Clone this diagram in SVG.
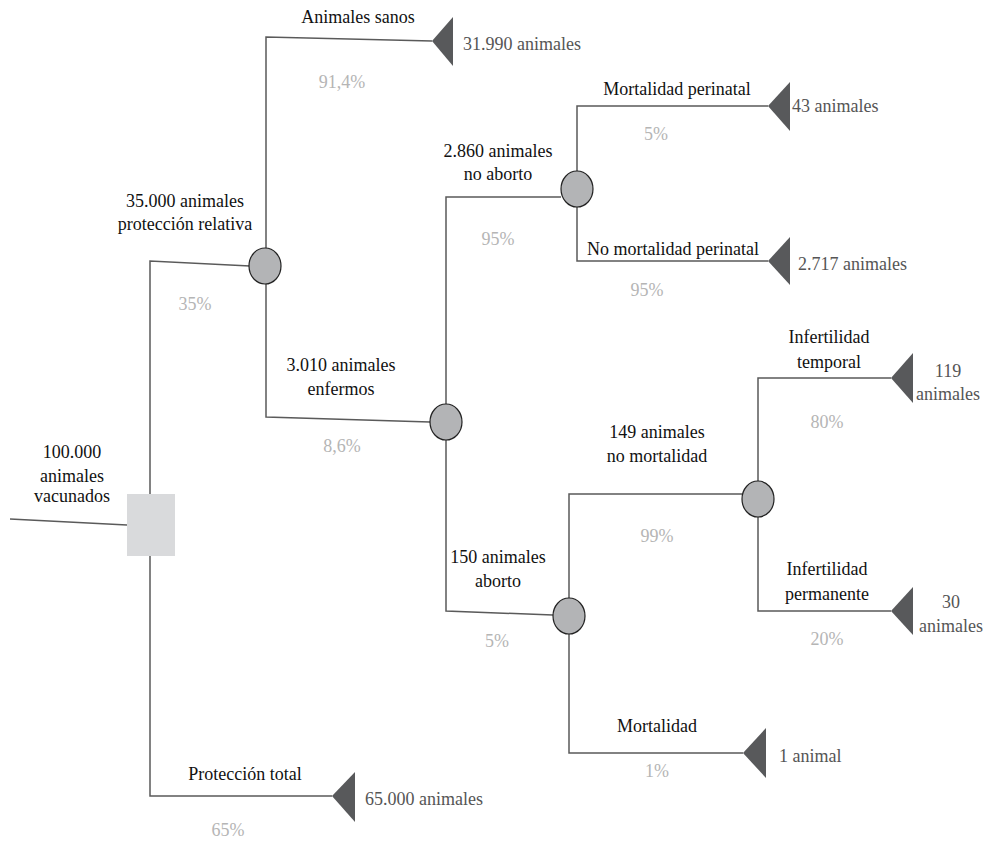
<svg xmlns="http://www.w3.org/2000/svg" width="992" height="841" viewBox="0 0 992 841">
<style>
.t text{font-size:18px}
.lbl{fill:#111;text-anchor:middle}
.pct{fill:#b5b5b5;text-anchor:middle}
.val{fill:#555}
.valc{fill:#555;text-anchor:middle}
.ln{fill:none;stroke:#5a5a5a;stroke-width:1.5}
.chance{fill:#b3b4b6;stroke:#222;stroke-width:1.2}
.end{fill:#58595b}
</style>
<rect width="992" height="841" fill="#fff"/>
<g id="connectors">
<path class="ln" d="M10,519 L127,525"/>
<path class="ln" d="M150,494 L150,261 L250,266"/>
<path class="ln" d="M150,556 L150,796 L332,796"/>
<path class="ln" d="M266,248 L266,37 L432,41"/>
<path class="ln" d="M266,284 L266,417 L430,422"/>
<path class="ln" d="M446,404 L446,197 L561,197"/>
<path class="ln" d="M446,440 L446,611 L553,615"/>
<path class="ln" d="M577,171 L577,106 L768,106"/>
<path class="ln" d="M577,207 L577,261 L768,261"/>
<path class="ln" d="M569,598 L569,494 L742,494"/>
<path class="ln" d="M569,634 L569,753 L743,753"/>
<path class="ln" d="M758,481 L758,378 L891,378"/>
<path class="ln" d="M758,517 L758,611 L891,611"/>
</g>
<g class="t" font-family="'Liberation Serif', 'DejaVu Serif', serif">
<g id="root">
<rect x="127" y="494" width="48" height="62" fill="#d9dadc"/>
<text class="lbl" x="72" y="458">100.000</text>
<text class="lbl" x="72" y="482">animales</text>
<text class="lbl" x="72" y="502">vacunados</text>
</g>
<g id="relativa">
<ellipse class="chance" cx="265" cy="266" rx="16" ry="18"/>
<text class="lbl" x="185" y="207">35.000 animales</text>
<text class="lbl" x="185" y="230">protección relativa</text>
<text class="pct" x="195" y="310">35%</text>
</g>
<g id="sanos">
<polygon class="end" points="432,41 453,17 453,66"/>
<text class="lbl" x="358" y="23">Animales sanos</text>
<text class="pct" x="342" y="88">91,4%</text>
<text class="val" x="463" y="50">31.990 animales</text>
</g>
<g id="enfermos">
<ellipse class="chance" cx="446" cy="422" rx="16" ry="18"/>
<text class="lbl" x="341" y="371">3.010 animales</text>
<text class="lbl" x="341" y="395">enfermos</text>
<text class="pct" x="342" y="452">8,6%</text>
</g>
<g id="noaborto">
<ellipse class="chance" cx="577" cy="189" rx="16" ry="18"/>
<text class="lbl" x="498" y="157">2.860 animales</text>
<text class="lbl" x="498" y="180">no aborto</text>
<text class="pct" x="498" y="245">95%</text>
</g>
<g id="mortperinatal">
<polygon class="end" points="768,106 790,82 790,131"/>
<text class="lbl" x="677" y="95">Mortalidad perinatal</text>
<text class="pct" x="656" y="140">5%</text>
<text class="val" x="792" y="112">43 animales</text>
</g>
<g id="nomortperinatal">
<polygon class="end" points="768,261 790,237 790,285"/>
<text class="lbl" x="673" y="255">No mortalidad perinatal</text>
<text class="pct" x="647" y="296">95%</text>
<text class="val" x="798" y="270">2.717 animales</text>
</g>
<g id="aborto">
<ellipse class="chance" cx="569" cy="616" rx="16" ry="18"/>
<text class="lbl" x="498" y="563">150 animales</text>
<text class="lbl" x="498" y="587">aborto</text>
<text class="pct" x="497" y="647">5%</text>
</g>
<g id="nomortalidad">
<ellipse class="chance" cx="758" cy="499" rx="16" ry="18"/>
<text class="lbl" x="657" y="438">149 animales</text>
<text class="lbl" x="657" y="462">no mortalidad</text>
<text class="pct" x="657" y="542">99%</text>
</g>
<g id="inftemporal">
<polygon class="end" points="891,378 913,353 913,403"/>
<text class="lbl" x="829" y="343">Infertilidad</text>
<text class="lbl" x="829" y="368">temporal</text>
<text class="pct" x="827" y="428">80%</text>
<text class="valc" x="948" y="377">119</text>
<text class="valc" x="948" y="400">animales</text>
</g>
<g id="infpermanente">
<polygon class="end" points="891,611 913,587 913,635"/>
<text class="lbl" x="827" y="575">Infertilidad</text>
<text class="lbl" x="827" y="600">permanente</text>
<text class="pct" x="827" y="645">20%</text>
<text class="valc" x="951" y="608">30</text>
<text class="valc" x="951" y="632">animales</text>
</g>
<g id="mortalidad">
<polygon class="end" points="743,753 766,728 766,778"/>
<text class="lbl" x="657" y="732">Mortalidad</text>
<text class="pct" x="657" y="777">1%</text>
<text class="val" x="779" y="762">1 animal</text>
</g>
<g id="total">
<polygon class="end" points="332,796 355,772 355,822"/>
<text class="lbl" x="245" y="780">Protección total</text>
<text class="pct" x="228" y="836">65%</text>
<text class="val" x="365" y="805">65.000 animales</text>
</g>
</g>
</svg>
